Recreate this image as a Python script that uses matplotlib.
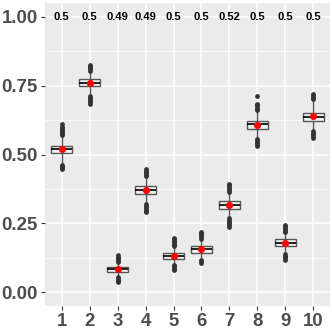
import matplotlib.pyplot as plt
from matplotlib.ticker import MultipleLocator

plt.rcParams["font.family"] = ["Liberation Sans", "DejaVu Sans"]

# ---------- data ----------
groups = list(range(1, 11))
top_labels = ["0.5", "0.5", "0.49", "0.49", "0.5", "0.5", "0.52", "0.5", "0.5", "0.5"]

q1 = [0.505, 0.749, 0.074, 0.356, 0.121, 0.144, 0.301, 0.593, 0.167, 0.623]
med = [0.520, 0.761, 0.084, 0.371, 0.132, 0.156, 0.317, 0.610, 0.179, 0.638]
q3 = [0.532, 0.774, 0.092, 0.386, 0.144, 0.167, 0.331, 0.623, 0.192, 0.652]
wlo = [0.468, 0.714, 0.059, 0.323, 0.100, 0.121, 0.272, 0.560, 0.140, 0.590]
whi = [0.569, 0.803, 0.108, 0.420, 0.165, 0.193, 0.362, 0.660, 0.217, 0.698]
means = [0.520, 0.760, 0.084, 0.371, 0.133, 0.157, 0.317, 0.609, 0.179, 0.639]

outliers = [
    [0.572, 0.576, 0.580, 0.585, 0.590, 0.595, 0.600, 0.611, 0.462, 0.458, 0.454, 0.450, 0.446],
    [0.805, 0.809, 0.813, 0.817, 0.821, 0.826, 0.712, 0.706, 0.700, 0.694, 0.689, 0.684],
    [0.110, 0.115, 0.120, 0.125, 0.130, 0.135, 0.056, 0.051, 0.046, 0.041, 0.036],
    [0.422, 0.427, 0.432, 0.437, 0.442, 0.448, 0.320, 0.314, 0.308, 0.302, 0.296, 0.292],
    [0.167, 0.172, 0.177, 0.182, 0.187, 0.192, 0.196, 0.098, 0.094, 0.090, 0.085, 0.080],
    [0.195, 0.200, 0.205, 0.210, 0.215, 0.219, 0.119, 0.113, 0.107],
    [0.365, 0.370, 0.376, 0.382, 0.388, 0.393, 0.269, 0.263, 0.257, 0.250, 0.244, 0.237],
    [0.662, 0.667, 0.672, 0.678, 0.684, 0.711, 0.557, 0.552, 0.546, 0.541, 0.536, 0.531],
    [0.219, 0.224, 0.229, 0.234, 0.239, 0.244, 0.138, 0.133, 0.128, 0.123, 0.119],
    [0.700, 0.705, 0.710, 0.715, 0.720, 0.586, 0.580, 0.574, 0.568, 0.560],
]

# ---------- plot ----------
fig = plt.figure(figsize=(3.32, 3.32), dpi=100)
ax = fig.add_axes([0.1355, 0.078, 0.8585, 0.913])
ax.set_facecolor("#EBEBEB")

stats = []
for i in range(len(groups)):
    stats.append(dict(q1=q1[i], med=med[i], q3=q3[i], whislo=wlo[i],
                      whishi=whi[i], fliers=outliers[i]))

edge = "#555555"
ax.bxp(stats, positions=groups, widths=0.75, showcaps=False, patch_artist=True,
       boxprops=dict(facecolor="#F2F2F2", edgecolor=edge, linewidth=1.0),
       whiskerprops=dict(color=edge, linewidth=1.0),
       medianprops=dict(color="black", linewidth=1.2),
       flierprops=dict(marker="o", markersize=2.4, markerfacecolor="#333333",
                       markeredgecolor="#333333"),
       zorder=3)

ax.scatter(groups, means, s=26, color="red", zorder=5, linewidths=0)

for g, lab in zip(groups, top_labels):
    ax.text(g, 1.0, lab, ha="center", va="center", fontsize=8,
            fontweight="bold", color="black")

ax.set_xlim(0.4, 10.6)
ax.set_ylim(-0.05, 1.05)
ax.set_xticks(groups)
ax.set_xticklabels([str(g) for g in groups])
ax.set_yticks([0, 0.25, 0.5, 0.75, 1.0])
ax.set_yticklabels(["0.00", "0.25", "0.50", "0.75", "1.00"])
ax.yaxis.set_minor_locator(MultipleLocator(0.125))

ax.grid(True, which="major", color="white", linewidth=1.1)
ax.grid(True, which="minor", axis="y", color="white", linewidth=0.5)
ax.set_axisbelow(True)
for s in ax.spines.values():
    s.set_visible(False)

ax.tick_params(axis="both", which="major", length=3, width=0.8, color="#333333",
               labelsize=13.4, labelcolor="#4D4D4D", pad=2)
ax.tick_params(which="minor", length=0)
for lab in ax.get_xticklabels() + ax.get_yticklabels():
    lab.set_fontweight("bold")

fig.savefig("out.png", dpi=100)
